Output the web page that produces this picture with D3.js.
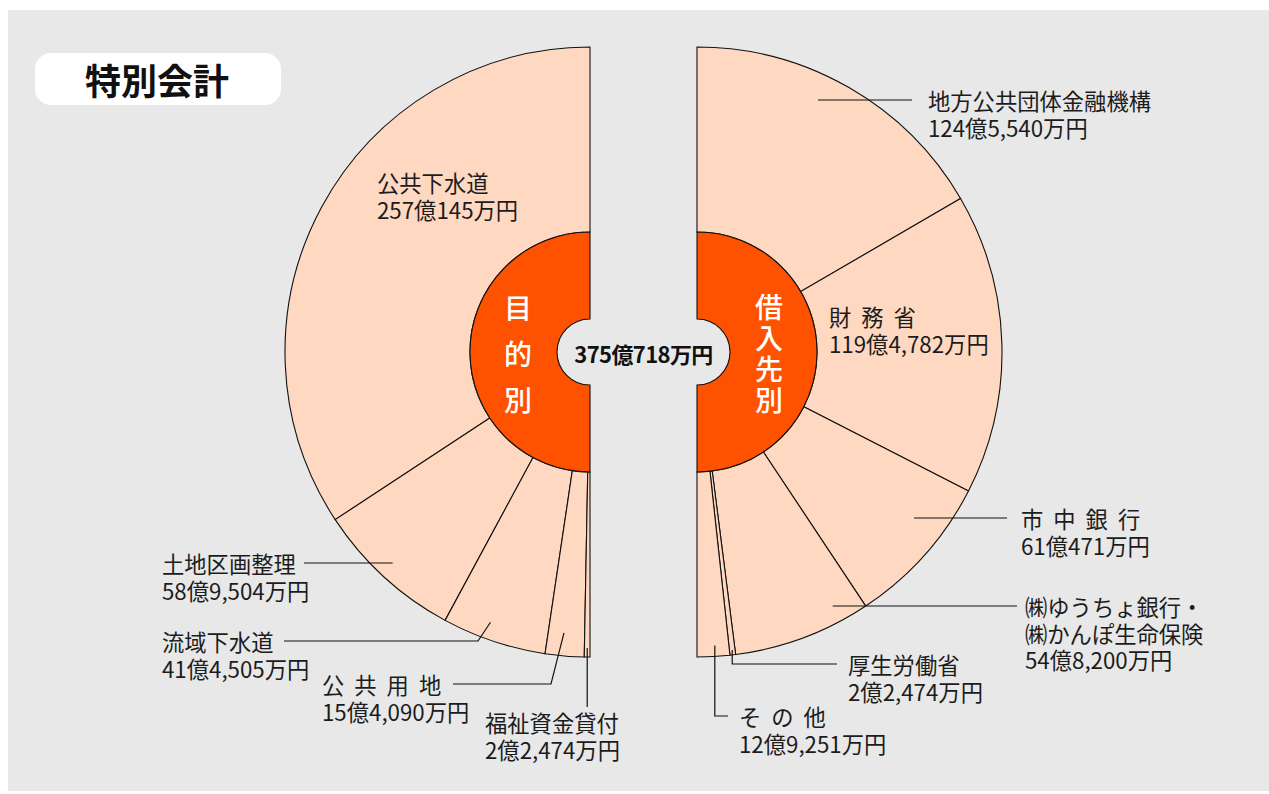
<!DOCTYPE html>
<html>
<head>
<meta charset="utf-8">
<script src="https://cdn.jsdelivr.net/npm/d3@7"></script>
<style>
  body { margin: 0; background: #fff; }
  text { font-family: "Noto Sans CJK JP", "Noto Sans", sans-serif; }
</style>
</head>
<body>
<svg id="chart" width="1269" height="794"></svg>
<script>
// 目的別 (units: 万円)
var purposeNames = ['公共下水道', '土地区画整理', '流域下水道', '公共用地', '福祉資金貸付'];
var purposeValues = [2570145, 589504, 414505, 154090, 22474];
var purposeAmounts = ['257億145万円', '58億9,504万円', '41億4,505万円', '15億4,090万円', '2億2,474万円'];

// 借入先別 (units: 万円)
var lenderNames = ['地方公共団体金融機構', '財務省', '市中銀行', '㈱ゆうちょ銀行・\n㈱かんぽ生命保険', '厚生労働省', 'その他'];
var lenderValues = [1245540, 1194782, 610471, 548200, 22474, 129251];
var lenderAmounts = ['124億5,540万円', '119億4,782万円', '61億471万円', '54億8,200万円', '2億2,474万円', '12億9,251万円'];

var totalAmount = '375億718万円';
var title = '特別会計';
var innerTitles = ['目的別', '借入先別'];

// label placement (t = position inside slice, r = anchor radius)
var purposeLayout = [
  {x: 377, y: 182},
  {x: 162, y: 563, t: .48, r: 289, kind: 'h', end: 304},
  {x: 162, y: 641, t: .41, r: 288, kind: 'diag', bend: 478, end: 284},
  {x: 322, y: 684, t: .43, r: 282, kind: 'diag', bend: 551, end: 453, spaced: true},
  {x: 485, y: 722, t: .5, r: 296, kind: 'v', end: 707}
];
var lenderLayout = [
  {x: 928, y: 100, t: .43, r: 279, kind: 'h', end: 912},
  {x: 829, y: 316, spaced: true},
  {x: 1021, y: 518, t: .34, r: 272, kind: 'h', end: 1007, spaced: true},
  {x: 1025, y: 606, t: .2, r: 286, kind: 'h', end: 1017},
  {x: 848, y: 664, t: .5, r: 300, kind: 'vh', end: 837},
  {x: 739, y: 716, t: .44, r: 294, kind: 'vh', end: 728, spaced: true}
];

var cy = 352;
var leftCx = 590, rightCx = 697;
var holeR = 33, innerR = 120, outerR = 305;
var lineH = 26.5;

var svg = d3.select('#chart');

svg.append('rect')
  .attr('x', 8).attr('y', 10)
  .attr('width', 1261).attr('height', 781)
  .attr('fill', '#e8e8e8');

// title box
svg.append('rect')
  .attr('x', 35).attr('y', 53)
  .attr('width', 246).attr('height', 52)
  .attr('rx', 16)
  .attr('fill', '#fff');
svg.append('text')
  .attr('x', 157).attr('y', 79)
  .attr('text-anchor', 'middle')
  .attr('dominant-baseline', 'central')
  .attr('font-size', 36)
  .attr('font-weight', 700)
  .attr('fill', '#111')
  .text(title);

var sliceArc = d3.arc().innerRadius(innerR).outerRadius(outerR);
var coreArc = d3.arc().innerRadius(holeR).outerRadius(innerR);

function drawHalf(names, values, amounts, layout, cx, dir, innerTitle) {
  var pie = d3.pie().sort(null).startAngle(0).endAngle(dir * Math.PI);
  var arcs = pie(values);
  var g = svg.append('g').attr('transform', 'translate(' + cx + ',' + cy + ')');

  g.selectAll('path.slice')
    .data(arcs)
    .enter().append('path')
    .attr('class', 'slice')
    .attr('d', sliceArc)
    .attr('fill', '#ffd8c1')
    .attr('stroke', '#111')
    .attr('stroke-width', 1.1);

  g.append('path')
    .attr('d', coreArc({startAngle: 0, endAngle: dir * Math.PI}))
    .attr('fill', '#ff5200')
    .attr('stroke', '#111')
    .attr('stroke-width', 1.1);

  // vertical title in orange core, one text element
  var n = innerTitle.length;
  var gap = n === 3 ? 18 : 3;
  g.append('text')
    .attr('x', dir * 72)
    .attr('y', 2 + gap / 2)
    .attr('writing-mode', 'vertical-rl')
    .attr('text-anchor', 'middle')
    .attr('font-size', 28)
    .attr('font-weight', 500)
    .attr('letter-spacing', gap + 'px')
    .attr('fill', '#fff')
    .text(innerTitle);

  // labels + leaders
  arcs.forEach(function(a, i) {
    var L = layout[i];
    if (L.kind) {
      var ang = a.startAngle + L.t * (a.endAngle - a.startAngle);
      var ax = cx + L.r * Math.sin(ang);
      var ay = cy - L.r * Math.cos(ang);
      var pts;
      if (L.kind === 'h') pts = [[ax, L.y], [L.end, L.y]];
      else if (L.kind === 'diag') pts = [[ax, ay], [L.bend, L.y], [L.end, L.y]];
      else if (L.kind === 'v') pts = [[ax, ay], [ax, L.end]];
      else pts = [[ax, ay], [ax, L.y], [L.end, L.y]];
      svg.append('path')
        .attr('d', d3.line()(pts))
        .attr('fill', 'none')
        .attr('stroke', '#111')
        .attr('stroke-width', 1.2);
    }
    var lines = names[i].split('\n').concat([amounts[i]]);
    var t = svg.append('text')
      .attr('y', L.y)
      .attr('dominant-baseline', 'central')
      .attr('font-size', 22.3)
      .attr('fill', '#1c1c1c');
    lines.forEach(function(s, j) {
      t.append('tspan')
        .attr('x', L.x)
        .attr('dy', j === 0 ? 0 : lineH)
        .attr('letter-spacing', (L.spaced && j < lines.length - 1) ? '10px' : '0px')
        .text(s);
    });
  });
}

drawHalf(purposeNames, purposeValues, purposeAmounts, purposeLayout, leftCx, -1, innerTitles[0]);
drawHalf(lenderNames, lenderValues, lenderAmounts, lenderLayout, rightCx, 1, innerTitles[1]);

svg.append('text')
  .attr('x', (leftCx + rightCx) / 2)
  .attr('y', cy + 1)
  .attr('text-anchor', 'middle')
  .attr('dominant-baseline', 'central')
  .attr('font-size', 22)
  .attr('font-weight', 700)
  .attr('letter-spacing', '-0.6px')
  .attr('fill', '#111')
  .text(totalAmount);
</script>
</body>
</html>
